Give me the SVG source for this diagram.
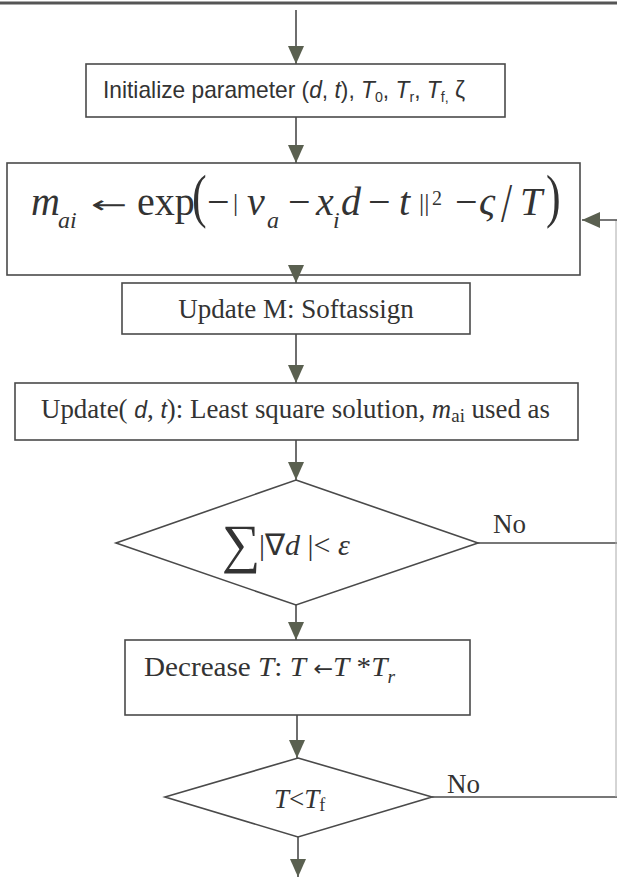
<svg xmlns="http://www.w3.org/2000/svg" width="617" height="879" viewBox="0 0 617 879">
<style>
.box{fill:#fff;stroke:#4a4a4a;stroke-width:1.6}
.ln{fill:none;stroke:#4a4a4a;stroke-width:1.6}
.ser{font-family:'Liberation Serif','Times New Roman',serif;fill:#333}
.sans{font-family:'Liberation Sans Narrow','Liberation Sans',Arial,sans-serif;fill:#333}
.arr{font-family:'DejaVu Sans',sans-serif;font-style:normal}
.i{font-style:italic}
</style>
<defs>
<marker id="ah" markerUnits="userSpaceOnUse" markerWidth="18" markerHeight="16" refX="18" refY="8" orient="auto">
<path d="M0,0 L18,8 L0,16 z" fill="#5a6050"/>
</marker>
</defs>
<rect width="617" height="879" fill="#fff"/>
<line x1="0" y1="3" x2="617" y2="3" stroke="#555" stroke-width="3"/>

<g id="init">
<rect class="box" x="86" y="64" width="419" height="53"/>
<text class="sans" x="103" y="98" font-size="24" textLength="362" lengthAdjust="spacingAndGlyphs">Initialize parameter (<tspan class="i">d</tspan>, <tspan class="i">t</tspan>), <tspan class="i">T</tspan><tspan font-size="15" dy="4">0</tspan><tspan dy="-4">, </tspan><tspan class="i">T</tspan><tspan font-size="15" dy="4">r</tspan><tspan dy="-4">, </tspan><tspan class="i">T</tspan><tspan font-size="15" dy="4">f,</tspan><tspan dy="-4"> ζ</tspan></text>
</g>

<g id="assign">
<rect class="box" x="7" y="163" width="573" height="112"/>
<g class="ser" font-size="40">
<text x="31" y="215" class="i">m</text>
<text x="58" y="228" class="i" font-size="24">ai</text>
<text class="arr" font-size="30" transform="translate(91,213) scale(1.45,0.8)">←</text>
<text x="137" y="215">exp</text>
<text transform="translate(192,216) scale(1.1,1.5)">(</text>
<text x="207" y="215">−</text>
<text x="233" y="211" font-size="26">|</text>
<text x="247" y="215" class="i">v</text>
<text x="267" y="228" class="i" font-size="24">a</text>
<text x="288" y="215">−</text>
<text x="316" y="215" class="i">x</text>
<text x="333" y="228" class="i" font-size="24">i</text>
<text x="341" y="215" class="i">d</text>
<text x="368" y="215">−</text>
<text x="399" y="215" class="i">t</text>
<text x="419" y="211" font-size="26">||</text>
<text x="432" y="205" font-size="20">2</text>
<text x="455" y="215">−</text>
<text x="479" y="215" class="i">ς</text>
<text transform="translate(501,221) scale(1,1.35)">/</text>
<text x="520" y="215" class="i">T</text>
<text transform="translate(546,216) scale(1.1,1.5)">)</text>
</g>
</g>

<g id="softassign">
<rect class="box" x="122" y="283" width="348" height="51"/>
<text class="ser" x="296" y="318" font-size="27" text-anchor="middle">Update M: Softassign</text>
</g>

<g id="lsq">
<rect class="box" x="15" y="383" width="563" height="57"/>
<text class="ser" x="41" y="418" font-size="27" textLength="509" lengthAdjust="spacingAndGlyphs">Update( <tspan font-family="'Liberation Sans',Arial,sans-serif" font-style="italic" font-size="23">d</tspan>, <tspan font-family="'Liberation Sans',Arial,sans-serif" font-style="italic" font-size="23">t</tspan>): Least square solution, <tspan class="i">m</tspan><tspan font-size="19" dy="4">ai</tspan><tspan dy="-4"> used as</tspan></text>
</g>

<g id="converge">
<polygon class="box" points="296,480 478,543 296,605 116,543"/>
<text class="ser" x="222" y="562" font-size="54">∑</text>
<text class="ser" x="259" y="555" font-size="30">|∇<tspan class="i">d</tspan> |&lt; <tspan class="i">ε</tspan></text>
<text class="ser" x="493" y="533" font-size="27">No</text>
</g>

<g id="decrease">
<rect class="box" x="125" y="640" width="345" height="75"/>
<text class="ser" x="144" y="676" font-size="27" textLength="251" lengthAdjust="spacingAndGlyphs">Decrease <tspan class="i">T</tspan>: <tspan class="i">T</tspan> <tspan class="arr" font-size="22">←</tspan><tspan class="i">T</tspan> *<tspan class="i">T</tspan><tspan class="i" font-size="18" dy="7">r</tspan></text>
</g>

<g id="final">
<polygon class="box" points="298,758 432,797 298,837 165,797"/>
<text class="ser" x="274" y="808" font-size="27"><tspan class="i">T</tspan>&lt;<tspan class="i">T</tspan><tspan font-size="18" dy="3">f</tspan></text>
<text class="ser" x="447" y="793" font-size="27">No</text>
</g>

<g id="connectors">
<path class="ln" d="M296,10 V64" marker-end="url(#ah)"/>
<path class="ln" d="M296,117 V163" marker-end="url(#ah)"/>
<path class="ln" d="M296,265 V283" marker-end="url(#ah)"/>
<path class="ln" d="M296,334 V383" marker-end="url(#ah)"/>
<path class="ln" d="M296,440 V480" marker-end="url(#ah)"/>
<path class="ln" d="M296,605 V640" marker-end="url(#ah)"/>
<path class="ln" d="M297,715 V758" marker-end="url(#ah)"/>
<path class="ln" d="M298,837 V877" marker-end="url(#ah)"/>
<path class="ln" d="M478,543 H617"/>
<path class="ln" d="M432,797 H617"/>
<path d="M616,220 V797" fill="none" stroke="#aaa" stroke-width="1"/>
<path class="ln" d="M617,220 H582" marker-end="url(#ah)"/>
</g>
</svg>
